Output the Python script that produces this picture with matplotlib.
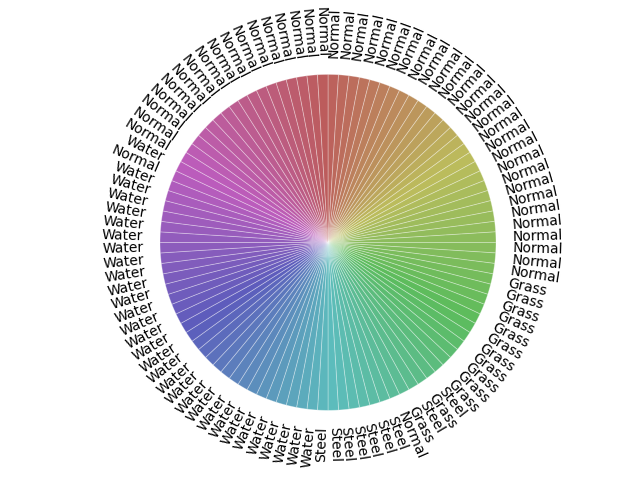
import numpy as np
import matplotlib
matplotlib.use("Agg")
import matplotlib.pyplot as plt
import seaborn as sns

labels = (["Normal"] * 25
          + ["Normal"] * 3 + ["Grass"] * 11 + ["Steel", "Grass", "Steel", "Grass", "Normal"] + ["Steel"] * 6
          + ["Steel"] + ["Water"] * 24
          + ["Water"] * 6 + ["Normal", "Water"] + ["Normal"] * 17)
values = [10] * len(labels)

n = len(labels)
colors = sns.hls_palette(n, l=0.55, s=0.42)
theta = np.linspace(0, 2 * np.pi, n, endpoint=False) + np.pi / n

fig = plt.figure(figsize=(6.4, 4.8), dpi=100)
ax = fig.add_subplot(111, polar=True)
ax.set_theta_offset(np.pi / 2)
ax.set_theta_direction(-1)
ax.bar(theta, values, width=2 * np.pi / n, color=colors, edgecolor=(1, 1, 1, 0.35), linewidth=0.6)
ax.set_ylim(0, 11)
ax.set_axis_off()

for t, lab in zip(theta, labels):
    deg = np.degrees(t)
    rot = 90 - deg
    if 180 < deg < 360:
        rot += 180
        ha = "right"
    else:
        ha = "left"
    ax.text(t, 11.0, lab, rotation=rot, rotation_mode="anchor", ha=ha, va="center",
            fontsize=10, clip_on=False)

fig.savefig("out.png", dpi=100)
